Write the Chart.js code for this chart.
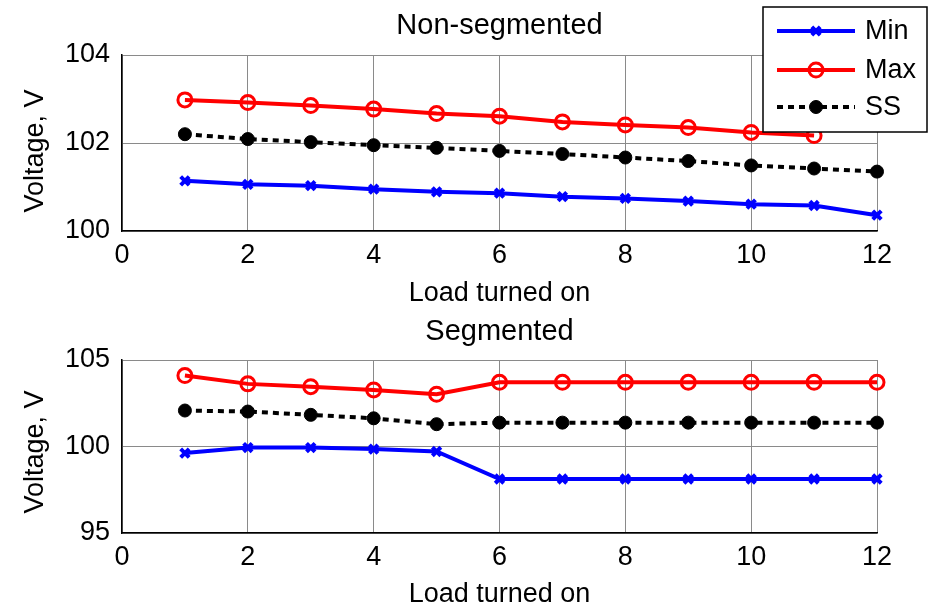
<!DOCTYPE html>
<html>
<head>
<meta charset="utf-8">
<script src="https://cdn.jsdelivr.net/npm/chart.js@4"></script>
<style>
  body { margin: 0; background: #fff; }
  #wrap { position: relative; width: 936px; height: 609px; }
  #c1 { position: absolute; left: 0; top: 0; }
  #c2 { position: absolute; left: 0; top: 300px; }
</style>
</head>
<body>
<div id="wrap">
  <canvas id="c1" width="936" height="312"></canvas>
  <canvas id="c2" width="936" height="309"></canvas>
</div>
<script>
// data
const loads = [1, 2, 3, 4, 5, 6, 7, 8, 9, 10, 11, 12];
const topMin = [101.14, 101.06, 101.03, 100.95, 100.89, 100.86, 100.78, 100.74, 100.68, 100.61, 100.58, 100.36];
const topMax = [102.98, 102.92, 102.85, 102.77, 102.67, 102.61, 102.48, 102.41, 102.35, 102.24, 102.17, null];
const topSS  = [102.20, 102.09, 102.02, 101.95, 101.89, 101.82, 101.75, 101.67, 101.59, 101.49, 101.42, 101.35];
const botMin = [99.62, 99.94, 99.94, 99.85, 99.71, 98.12, 98.12, 98.12, 98.12, 98.12, 98.12, 98.12];
const botMax = [104.1, 103.62, 103.46, 103.27, 103.02, 103.71, 103.71, 103.71, 103.71, 103.71, 103.71, 103.71];
const botSS  = [102.08, 102.02, 101.83, 101.63, 101.29, 101.38, 101.38, 101.38, 101.38, 101.38, 101.38, 101.38];
const xTicks = [0, 2, 4, 6, 8, 10, 12];
const topTicks = [100, 102, 104];
const botTicks = [95, 100, 105];
const seriesNames = ['Min', 'Max', 'SS'];

const FONT = "'Liberation Sans', Arial, sans-serif";

function pts(vals) {
    return loads.map((x, i) => ({ x: x, y: vals[i] }));
}

function makeSets(minV, maxV, ssV) {
    return [{
        label: seriesNames[0],
        data: pts(minV),
        borderColor: '#0000ff',
        backgroundColor: '#0000ff',
        borderWidth: 4,
        pointStyle: 'crossRot',
        pointRadius: 6,
        pointBorderWidth: 4,
        clip: false
    }, {
        label: seriesNames[1],
        data: pts(maxV),
        borderColor: '#ff0000',
        backgroundColor: 'rgba(0,0,0,0)',
        borderWidth: 4,
        pointStyle: 'circle',
        pointRadius: 7,
        pointBorderWidth: 3,
        clip: false
    }, {
        label: seriesNames[2],
        data: pts(ssV),
        borderColor: '#000000',
        backgroundColor: '#000000',
        borderWidth: 4,
        borderDash: [6, 5],
        pointStyle: 'circle',
        pointRadius: 6.5,
        pointBorderWidth: 1,
        clip: false
    }];
}

// titles, axis labels and legend drawn on top
const textPlugin = {
    id: 'texts',
    afterDraw(chart) {
        const o = chart.options.plugins.texts;
        const ctx = chart.ctx;
        const a = chart.chartArea;
        ctx.save();
        ctx.fillStyle = '#000';
        ctx.textAlign = 'center';
        ctx.textBaseline = 'alphabetic';
        ctx.font = '29px ' + FONT;
        ctx.fillText(o.title, (a.left + a.right) / 2, o.titleY);
        ctx.font = '27px ' + FONT;
        ctx.fillText('Load turned on', (a.left + a.right) / 2, o.xlabY);
        ctx.translate(43, o.ylabY);
        ctx.rotate(-Math.PI / 2);
        ctx.fillText('Voltage, V', 0, 0);
        ctx.restore();

        if (o.legend) {
            ctx.save();
            ctx.fillStyle = '#fff';
            ctx.fillRect(763, 7, 164, 125);
            ctx.strokeStyle = '#000';
            ctx.lineWidth = 1.5;
            ctx.strokeRect(763, 7, 164, 125);
            const ys = [31, 70, 107];
            chart.data.datasets.forEach((ds, i) => {
                ctx.save();
                ctx.strokeStyle = ds.borderColor;
                ctx.lineWidth = ds.borderWidth;
                ctx.setLineDash(ds.borderDash || []);
                ctx.beginPath();
                ctx.moveTo(777, ys[i]);
                ctx.lineTo(855, ys[i]);
                ctx.stroke();
                ctx.restore();
                ctx.save();
                ctx.strokeStyle = ds.borderColor;
                ctx.fillStyle = ds.backgroundColor;
                ctx.lineWidth = ds.pointBorderWidth;
                ctx.beginPath();
                if (ds.pointStyle === 'circle') {
                    ctx.arc(816, ys[i], ds.pointRadius, 0, Math.PI * 2);
                    ctx.fill();
                    ctx.stroke();
                } else {
                    const r = ds.pointRadius;
                    ctx.moveTo(816 - r * 0.7, ys[i] - r * 0.7);
                    ctx.lineTo(816 + r * 0.7, ys[i] + r * 0.7);
                    ctx.moveTo(816 + r * 0.7, ys[i] - r * 0.7);
                    ctx.lineTo(816 - r * 0.7, ys[i] + r * 0.7);
                    ctx.stroke();
                }
                ctx.restore();
                ctx.save();
                ctx.fillStyle = '#000';
                ctx.font = '27px ' + FONT;
                ctx.textBaseline = 'middle';
                ctx.textAlign = 'left';
                ctx.fillText(ds.label, 865, ys[i] + 1);
                ctx.restore();
            });
            ctx.restore();
        }
    }
};

function makeChart(id, sets, yTicks, padTop, xHeight, texts) {
    return new Chart(document.getElementById(id), {
        type: 'line',
        data: { datasets: sets },
        options: {
            responsive: false,
            animation: false,
            layout: { padding: { top: padTop, right: 59, left: 0, bottom: 0 } },
            plugins: {
                legend: { display: false },
                tooltip: { enabled: false },
                texts: texts
            },
            scales: {
                x: {
                    type: 'linear',
                    min: 0,
                    max: 12,
                    afterBuildTicks: s => { s.ticks = xTicks.map(v => ({ value: v })); },
                    afterFit: s => { s.height = xHeight; },
                    grid: { color: '#8a8a8a', lineWidth: 1, drawTicks: false },
                    border: { display: true, color: '#000', width: 1.5 },
                    ticks: { color: '#000', padding: 8, font: { family: FONT, size: 27 }, maxRotation: 0 }
                },
                y: {
                    min: yTicks[0],
                    max: yTicks[yTicks.length - 1],
                    afterBuildTicks: s => { s.ticks = yTicks.map(v => ({ value: v })); },
                    afterFit: s => { s.width = 122; },
                    grid: { color: '#8a8a8a', lineWidth: 1, drawTicks: false },
                    border: { display: true, color: '#000', width: 1.5 },
                    ticks: { color: '#000', padding: 12, font: { family: FONT, size: 27 } }
                }
            }
        },
        plugins: [textPlugin]
    });
}

makeChart('c1', makeSets(topMin, topMax, topSS), topTicks, 55, 81,
    { title: 'Non-segmented', titleY: 34, xlabY: 301, ylabY: 151, legend: true });
makeChart('c2', makeSets(botMin, botMax, botSS), botTicks, 60, 76,
    { title: 'Segmented', titleY: 40, xlabY: 302, ylabY: 152, legend: false });
</script>
</body>
</html>
